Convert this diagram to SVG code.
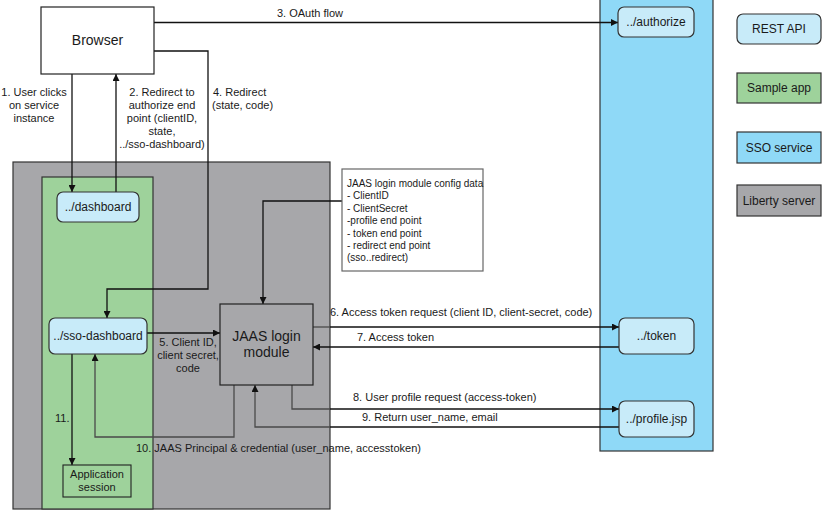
<svg xmlns="http://www.w3.org/2000/svg" width="822" height="511" viewBox="0 0 822 511">
  <defs>
    <marker id="arr" viewBox="0 0 10 10" refX="10" refY="5" markerWidth="8" markerHeight="7" markerUnits="userSpaceOnUse" orient="auto">
      <path d="M0,0 L10,5 L0,10 z" fill="#111"/>
    </marker>
  </defs>
  <style>
    text { font-family: "Liberation Sans", Arial, sans-serif; fill: #1a1a1a; }
    .lbl { font-size: 11px; }
    .cfg { font-size: 10px; }
    .node { font-size: 12px; text-anchor: middle; }
    .big { font-size: 14px; text-anchor: middle; }
    .mid { text-anchor: middle; }
    .api { fill: #c8ebf9; stroke: #333; stroke-width: 1.2; }
    .ln { fill: none; stroke: #111; stroke-width: 1.3; }
    .dim { fill: none; stroke: #4a4a4a; stroke-width: 1.3; }
  </style>

  <!-- containers -->
  <g id="liberty-server">
    <rect x="13" y="162" width="317" height="347" fill="#a7a7aa" stroke="#333" stroke-width="1.2"/>
  </g>
  <g id="sample-app">
    <rect x="42" y="177" width="111" height="332" fill="#9ed29b" stroke="#333" stroke-width="1.2"/>
  </g>
  <g id="sso-service">
    <rect x="600" y="-2" width="113" height="453" fill="#8fd9f7" stroke="#333" stroke-width="1.2"/>
  </g>

  <!-- connectors -->
  <g id="connectors">
    <!-- 3. OAuth flow -->
    <line class="ln" x1="154" y1="22.5" x2="618" y2="22.5" marker-start="url(#arr)" marker-end="url(#arr)"/>
    <!-- 1. user clicks -->
    <line class="ln" x1="72" y1="74" x2="72" y2="192" marker-end="url(#arr)"/>
    <!-- 2. redirect to authorize -->
    <line class="ln" x1="116" y1="192" x2="116" y2="74" marker-end="url(#arr)"/>
    <!-- 4. redirect back -->
    <path class="ln" d="M154,51 H208 V289 H107 V318" marker-end="url(#arr)"/>
    <!-- config data into login module -->
    <path class="ln" d="M342,201 H263 V304" marker-end="url(#arr)"/>
    <!-- 5. client id -->
    <line class="ln" x1="147" y1="333" x2="220" y2="333" marker-end="url(#arr)"/>
    <!-- 6. access token request -->
    <line class="dim" x1="313" y1="327" x2="330" y2="327"/>
    <line class="ln" x1="330" y1="327" x2="619" y2="327" marker-end="url(#arr)"/>
    <!-- 7. access token -->
    <line class="ln" x1="619" y1="347" x2="313" y2="347" marker-end="url(#arr)"/>
    <!-- 8. user profile request -->
    <path class="dim" d="M292,385 V409 H330"/>
    <line class="ln" x1="330" y1="409" x2="619" y2="409" marker-end="url(#arr)"/>
    <!-- 9. return user name -->
    <line class="ln" x1="619" y1="427" x2="330" y2="427"/>
    <path class="dim" d="M330,427 H255 V385" marker-end="url(#arr)"/>
    <!-- 10. principal & credential -->
    <path class="dim" d="M234,385 V437 H95 V354" marker-end="url(#arr)"/>
    <!-- 11. application session -->
    <line class="ln" x1="72" y1="354" x2="72" y2="465" marker-end="url(#arr)"/>
  </g>

  <!-- nodes -->
  <g id="browser">
    <rect x="41" y="7" width="113" height="67" fill="#fff" stroke="#222" stroke-width="1.2"/>
    <text class="big" x="97.5" y="45">Browser</text>
  </g>
  <g id="dashboard">
    <rect class="api" x="57" y="192" width="82" height="30" rx="6"/>
    <text class="node" x="98" y="211">../dashboard</text>
  </g>
  <g id="sso-dashboard">
    <rect class="api" x="49" y="318" width="98" height="36" rx="6"/>
    <text class="node" x="98" y="340">../sso-dashboard</text>
  </g>
  <g id="app-session">
    <rect x="63" y="465" width="68" height="32" fill="#9ed29b" stroke="#222" stroke-width="1.1"/>
    <text class="lbl mid" x="97" y="478">Application</text>
    <text class="lbl mid" x="97" y="491">session</text>
  </g>
  <g id="jaas-login">
    <rect x="220" y="304" width="93" height="81" fill="#a7a7aa" stroke="#222" stroke-width="1.2"/>
    <text class="big" x="266.5" y="341">JAAS login</text>
    <text class="big" x="266.5" y="357">module</text>
  </g>
  <g id="config-data">
    <rect x="342" y="169" width="141" height="102" fill="#fff" stroke="#666" stroke-width="1.2"/>
    <text class="cfg" x="347" y="186.5">JAAS login module config data</text>
    <text class="cfg" x="347" y="199">- ClientID</text>
    <text class="cfg" x="347" y="211.5">- ClientSecret</text>
    <text class="cfg" x="347" y="224">-profile end point</text>
    <text class="cfg" x="347" y="236.5">- token end point</text>
    <text class="cfg" x="347" y="249">- redirect end point</text>
    <text class="cfg" x="347" y="261">(sso..redirect)</text>
  </g>
  <g id="authorize">
    <rect class="api" x="618" y="7" width="76" height="30" rx="6"/>
    <text class="node" x="656" y="26">../authorize</text>
  </g>
  <g id="token">
    <rect class="api" x="619" y="318" width="75" height="36" rx="6"/>
    <text class="node" x="656.5" y="340">../token</text>
  </g>
  <g id="profile">
    <rect class="api" x="619" y="401" width="75" height="36" rx="6"/>
    <text class="node" x="656.5" y="423">../profile.jsp</text>
  </g>

  <!-- legend -->
  <g id="legend-rest-api">
    <rect class="api" x="737" y="14" width="84" height="30" rx="6"/>
    <text class="node" x="779" y="33">REST API</text>
  </g>
  <g id="legend-sample-app">
    <rect x="737" y="73" width="84" height="30" fill="#9ed29b" stroke="#333" stroke-width="1.2"/>
    <text class="node" x="779" y="92">Sample app</text>
  </g>
  <g id="legend-sso-service">
    <rect x="737" y="132" width="84" height="31" fill="#8fd9f7" stroke="#333" stroke-width="1.2"/>
    <text class="node" x="779" y="151.5">SSO service</text>
  </g>
  <g id="legend-liberty-server">
    <rect x="737" y="185" width="84" height="31" fill="#a7a7aa" stroke="#333" stroke-width="1.2"/>
    <text class="node" x="779" y="204.5">Liberty server</text>
  </g>

  <!-- connector labels -->
  <g id="labels">
    <text class="lbl" x="277" y="17">3. OAuth flow</text>
    <text class="lbl mid" x="34" y="96">1. User clicks</text>
    <text class="lbl mid" x="34" y="109">on service</text>
    <text class="lbl mid" x="34" y="122">instance</text>
    <text class="lbl mid" x="162" y="96">2. Redirect to</text>
    <text class="lbl mid" x="162" y="109">authorize end</text>
    <text class="lbl mid" x="162" y="122">point (clientID,</text>
    <text class="lbl mid" x="162" y="135">state,</text>
    <text class="lbl mid" x="162" y="148">../sso-dashboard)</text>
    <text class="lbl" x="213" y="96">4. Redirect</text>
    <text class="lbl" x="212" y="109">(state, code)</text>
    <text class="lbl mid" x="188" y="346">5. Client ID,</text>
    <text class="lbl mid" x="188" y="359">client secret,</text>
    <text class="lbl mid" x="188" y="372">code</text>
    <text class="lbl" x="330" y="316">6. Access token request (client ID, client-secret, code)</text>
    <text class="lbl" x="357" y="341">7. Access token</text>
    <text class="lbl" x="353" y="401">8. User profile request (access-token)</text>
    <text class="lbl" x="362" y="421">9. Return user_name, email</text>
    <text class="lbl" x="136" y="452">10. JAAS Principal &amp; credential (user_name, accesstoken)</text>
    <text class="lbl" x="55" y="422">11.</text>
  </g>
</svg>
